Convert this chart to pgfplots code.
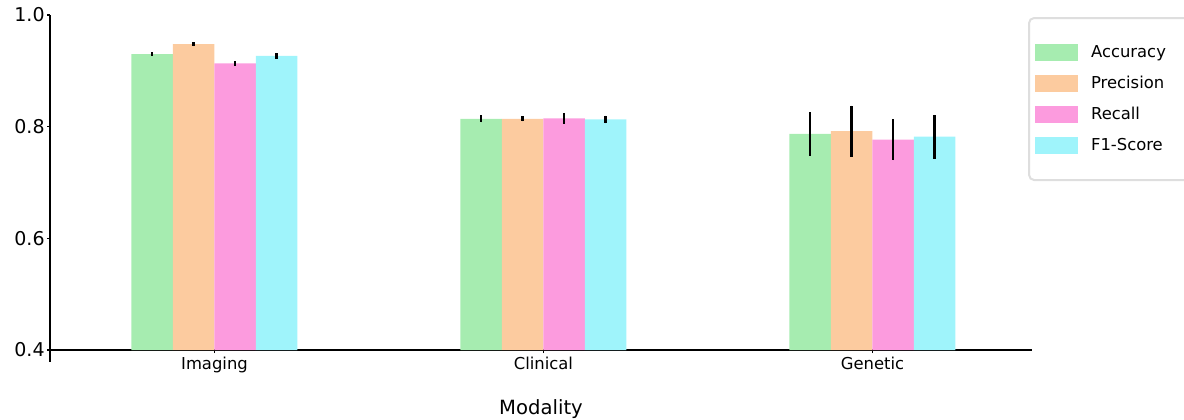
\documentclass[border=0pt]{standalone}
\usepackage{fontspec}
\setmainfont{DejaVu Sans}
\usepackage{pgfplots}
\pgfplotsset{compat=1.18}
\usepackage{pgfplotstable}

\definecolor{cAcc}{RGB}{166,236,176}
\definecolor{cPre}{RGB}{252,203,159}
\definecolor{cRec}{RGB}{252,155,222}
\definecolor{cF}{RGB}{159,244,251}

\pgfplotstableread{
x y e
0 0.930 0.0036
1 0.814 0.0063
2 0.787 0.0388
}\acc
\pgfplotstableread{
x y e
0 0.948 0.0036
1 0.814 0.0045
2 0.792 0.0457
}\pre
\pgfplotstableread{
x y e
0 0.9135 0.0041
1 0.815 0.0096
2 0.777 0.0367
}\rec
\pgfplotstableread{
x y e
0 0.9266 0.0048
1 0.813 0.0069
2 0.782 0.0390
}\fsc

\begin{document}
\begin{tikzpicture}
\begin{axis}[
  at={(0,0)}, anchor=south west,
  scale only axis,
  width=491pt, height=167.5pt,
  xmin=-0.5, xmax=2.485,
  ymin=0.4, ymax=1.0,
  axis x line=bottom, axis y line=left,
  axis line style={line width=1pt, -},
  tick align=outside,
  major tick length=1.5pt,
  tick style={line width=0.8pt, black},
  xtick={0,1,2},
  xticklabels={Imaging,Clinical,Genetic},
  ytick={0.4,0.6,0.8,1.0},
  yticklabel style={/pgf/number format/fixed, /pgf/number format/fixed zerofill, /pgf/number format/precision=1, font=\fontsize{9.5}{11}\selectfont, inner sep=1pt},
  xticklabel style={font=\fontsize{8.2}{10}\selectfont, inner sep=1pt, yshift=-1pt},
  /pgf/number format/assume math mode=true,
  xlabel={Modality},
  xlabel style={font=\fontsize{9.8}{12}\selectfont, at={(axis description cs:0.5,-0.176)}, anchor=center},
  ybar=0pt,
  bar width=20.75pt,
  clip=false,
  legend cell align=left,
  legend image code/.code={\pgfsetcornersarced{\pgfpointorigin}\fill[#1, draw=none, sharp corners] (0pt,-4.25pt) -- (21.5pt,-4.25pt) -- (21.5pt,4.25pt) -- (0pt,4.25pt) -- cycle;},
  legend style={at={(0.996,0.994)}, anchor=north west, draw=black!13, line width=1pt,
    rounded corners=2.5pt, fill=white, font=\fontsize{8.2}{10}\selectfont,
    inner xsep=3pt, inner ysep=13pt, row sep=7pt,
    nodes={inner sep=0pt, text width=50pt},
    /tikz/every odd column/.append style={column sep=6.5pt}},
  error bars/y dir=both, error bars/y explicit,
  error bars/error mark=none,
  error bars/error bar style={line width=1.25pt, black},
]
\addplot[fill=cAcc, draw=none] table[x=x, y=y, y error=e] {\acc};
\addplot[fill=cPre, draw=none] table[x=x, y=y, y error=e] {\pre};
\addplot[fill=cRec, draw=none] table[x=x, y=y, y error=e] {\rec};
\addplot[fill=cF, draw=none] table[x=x, y=y, y error=e] {\fsc};
\legend{Accuracy,Precision,Recall,F1-Score}
\draw[line width=1pt] (axis cs:-0.5,0.4) -- ++(0pt,-6pt);
\end{axis}
\pgfresetboundingbox
\path[use as bounding box] (-25pt,-34.5pt) rectangle (567pt,175pt);
\end{tikzpicture}
\end{document}
